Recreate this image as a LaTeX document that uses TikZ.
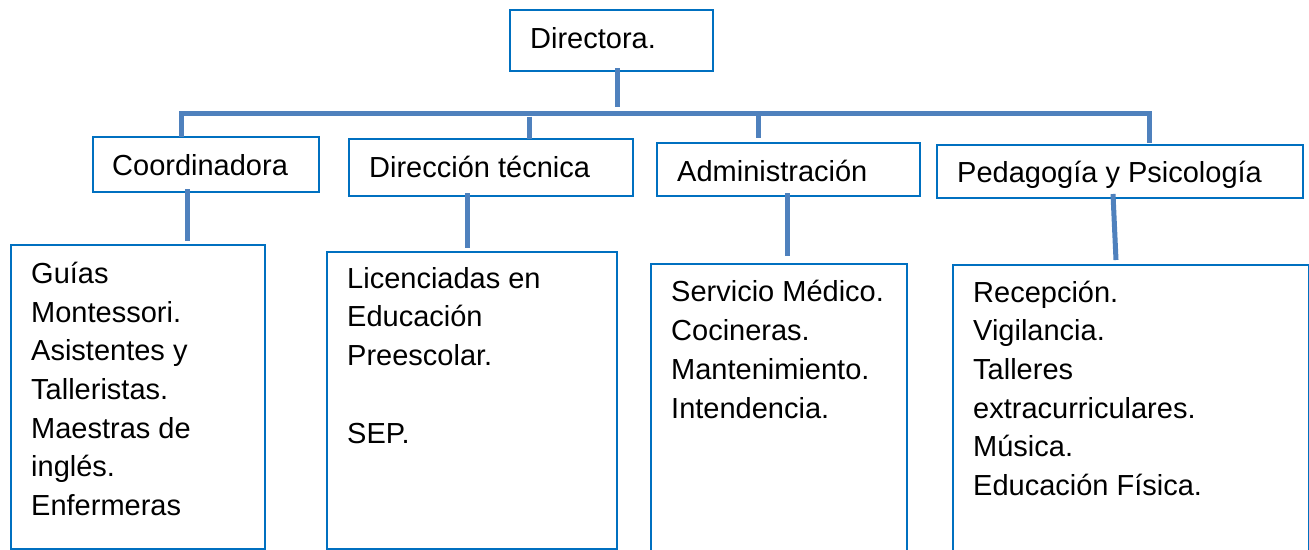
\documentclass[tikz,border=0pt]{standalone}
\usepackage{fontspec}
\setmainfont{Liberation Sans}
\usepackage{tikz}
\usetikzlibrary{positioning}

\definecolor{azulcaja}{RGB}{0,112,192}
\definecolor{azullinea}{RGB}{79,129,189}

\begin{document}
\begin{tikzpicture}[
        x=1pt, y=-1pt,
        caja/.style={draw=azulcaja, line width=2pt, anchor=north west, inner sep=0pt},
        texto/.style={anchor=base west, inner sep=0pt, align=left, font=\fontsize{29}{38.7}\selectfont},
        conector/.style={draw=azullinea, line width=5pt}
    ]
        \useasboundingbox (0,0) rectangle (1309,549);
        \clip (0,0) rectangle (1309,549);

        % Cajas
        \node[caja, minimum width=203, minimum height=61] (dir)   at (509,9)   {};
        \node[caja, minimum width=226, minimum height=55] (coord) at (92,136)  {};
        \node[caja, minimum width=284, minimum height=57] (dtec)  at (348,138) {};
        \node[caja, minimum width=263, minimum height=53] (admin) at (656,142) {};
        \node[caja, minimum width=366, minimum height=53] (peda)  at (936,144) {};
        \node[caja, minimum width=254, minimum height=304] (guias) at (10,244)  {};
        \node[caja, minimum width=290, minimum height=297] (lic)   at (326,251) {};
        \node[caja, minimum width=256, minimum height=320] (serv)  at (650,263) {};
        \node[caja, minimum width=356, minimum height=320] (recep) at (952,264) {};

        % Textos (base = ultima linea)
        \node[texto] (tdir)   at (530,48)  {Directora.};
        \node[texto] (tcoord) at (112,175) {Coordinadora};
        \node[texto] (tdtec)  at (369,177) {Dirección técnica};
        \node[texto] (tadmin) at (677,181) {Administración};
        \node[texto] (tpeda)  at (957,182) {Pedagogía y Psicología};
        \node[texto] (tguias) at (31,515.5) {Guías\\Montessori.\\Asistentes y\\Talleristas.\\Maestras de\\inglés.\\Enfermeras};
        \node[texto] (tlic)   at (347,443)  {Licenciadas en\\Educación\\Preescolar.\\[38.7pt]SEP.};
        \node[texto] (tserv)  at (671,418)  {Servicio Médico.\\Cocineras.\\Mantenimiento.\\Intendencia.};
        \node[texto] (trecep) at (973,495.5) {Recepción.\\Vigilancia.\\Talleres\\extracurriculares.\\Música.\\Educación Física.};

        % Barra principal
        \coordinate (barraI) at (181,113.5);
        \coordinate (barraD) at (1149,113.5);
        \draw[conector] ([xshift=5.5pt, yshift=4pt]dir.south) -- ([xshift=5.5pt]dir.south |- 0,107);
        \draw[conector] ([xshift=89pt, yshift=-1pt]coord.north west) |- (barraI) -- (barraD)
            -| ([xshift=213pt, yshift=1pt]peda.north west);
        \draw[conector] (barraI -| 529,0) ++(0,3) -- ([xshift=181pt, yshift=-1pt]dtec.north west);
        \draw[conector] (barraI -| 758,0) ++(0,2) -- ([xshift=102pt, yshift=4pt]admin.north west);

        % Ramas hacia abajo
        \draw[conector] ([xshift=95pt, yshift=4pt]coord.south west) -- ([xshift=177pt, yshift=3pt]guias.north west);
        \draw[conector] ([xshift=119pt, yshift=4pt]dtec.south west) -- ([xshift=141pt, yshift=3pt]lic.north west);
        \draw[conector] ([xshift=131pt, yshift=4pt]admin.south west) -- ([xshift=137pt, yshift=7pt]serv.north west);
        \draw[conector] ([xshift=177pt, yshift=5pt]peda.south west) -- ([xshift=164pt, yshift=4pt]recep.north west);
    \end{tikzpicture}
\end{document}
